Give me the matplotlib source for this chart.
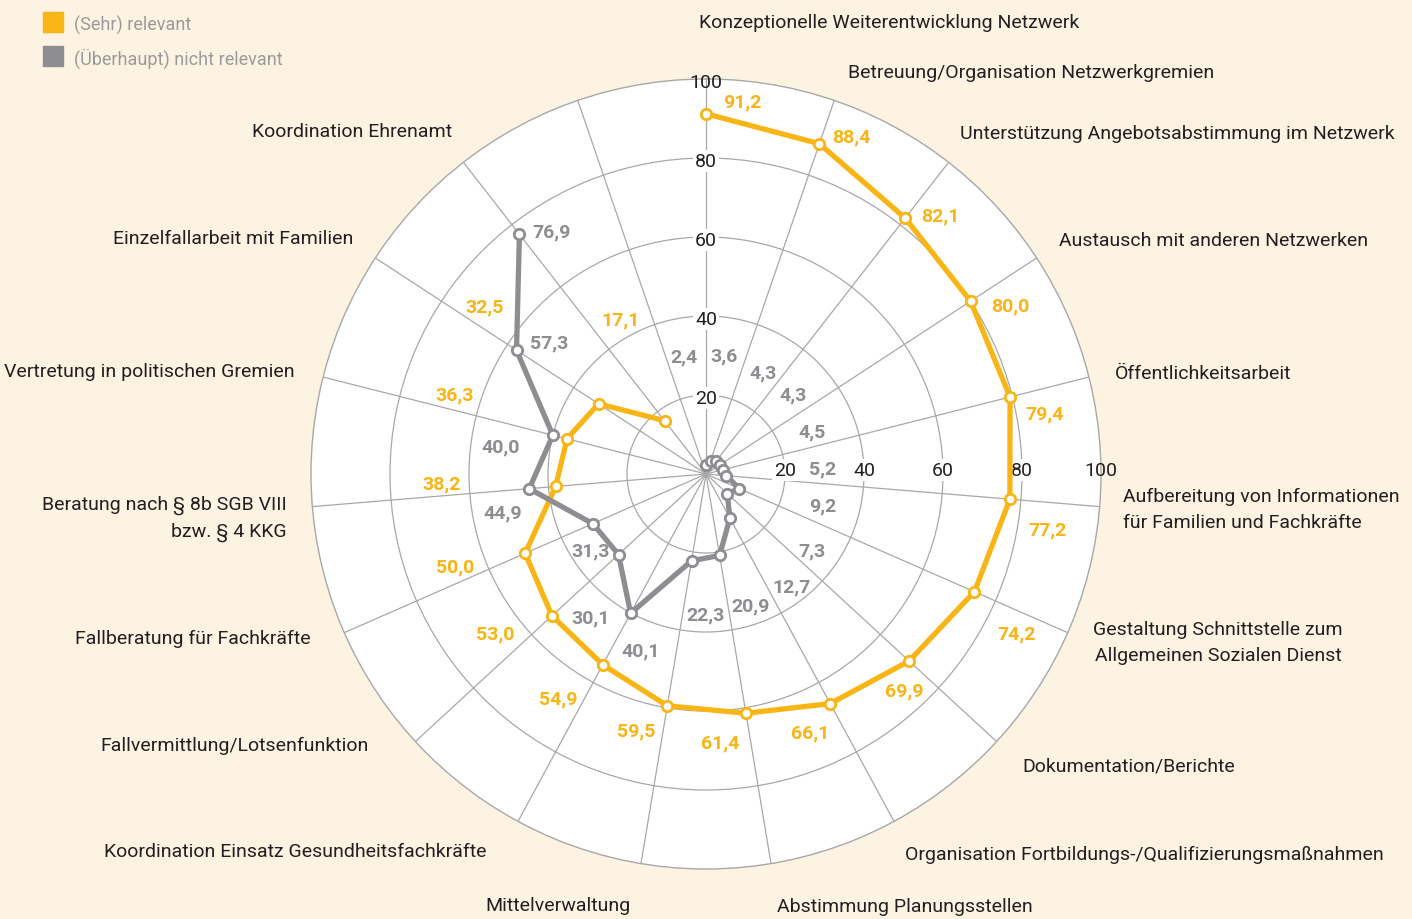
import matplotlib
matplotlib.use("Agg")
import matplotlib.pyplot as plt
import matplotlib.transforms as mtransforms
from matplotlib.patches import Rectangle
import numpy as np

# Kategorien (im Uhrzeigersinn ab oben), letzte Speiche bleibt leer
categories = [
    "Konzeptionelle Weiterentwicklung Netzwerk",
    "Betreuung/Organisation Netzwerkgremien",
    "Unterstützung Angebotsabstimmung im Netzwerk",
    "Austausch mit anderen Netzwerken",
    "Öffentlichkeitsarbeit",
    "Aufbereitung von Informationen\nfür Familien und Fachkräfte",
    "Gestaltung Schnittstelle zum\nAllgemeinen Sozialen Dienst",
    "Dokumentation/Berichte",
    "Organisation Fortbildungs-/Qualifizierungsmaßnahmen",
    "Abstimmung Planungsstellen",
    "Mittelverwaltung",
    "Koordination Einsatz Gesundheitsfachkräfte",
    "Fallvermittlung/Lotsenfunktion",
    "Fallberatung für Fachkräfte",
    "Beratung nach § 8b SGB VIII\nbzw. § 4 KKG",
    "Vertretung in politischen Gremien",
    "Einzelfallarbeit mit Familien",
    "Koordination Ehrenamt",
]
relevant = [91.2, 88.4, 82.1, 80.0, 79.4, 77.2, 74.2, 69.9, 66.1,
            61.4, 59.5, 54.9, 53.0, 50.0, 38.2, 36.3, 32.5, 17.1]
not_relevant = [2.4, 3.6, 4.3, 4.3, 4.5, 5.2, 9.2, 7.3, 12.7,
                20.9, 22.3, 40.1, 30.1, 31.3, 44.9, 40.0, 57.3, 76.9]
series_names = ["(Sehr) relevant", "(Überhaupt) nicht relevant"]
r_ticks = [20, 40, 60, 80, 100]
n_spokes = 19

# Layout: Beschriftungspositionen (Winkel in Grad, Radius in Skaleneinheiten)
yel_lab = [(5.5, 95.4), (23.2, 93.7), (41.8, 88.9), (60.5, 88.4), (79.3, 87.3),
           (98.8, 87.6), (116.7, 87.9), (137.2, 73.8), (157.9, 69.9), (177, 67.2),
           (195.5, 66.5), (213.7, 67.5), (233.5, 66.4), (250.3, 67.5), (268.5, 66.9),
           (288.3, 66.9), (307.6, 70.8), (331.7, 45.4)]
gry_lab = [(349.7, 31.1), (8.5, 31.0), (28.5, 30.2), (46.3, 30.4), (67, 29.2),
           (85.6, 29.7), (103.5, 30.5), (124.6, 32.6), (142, 35.0), (161, 34.3),
           (180, 34.9), (200.6, 46.8), (219.6, 46.0), (237.6, 34.5), (260, 52.2),
           (278.6, 52.5), (310.5, 52.3), (327.8, 73.6)]
# Kategorie-Beschriftungen in Pixeln (x, y, Ausrichtung)
cat_pos = [(699, 23, "left"), (848, 73, "left"), (960, 134, "left"),
           (1059, 241, "left"), (1115, 374, "left"), (1123, 510, "left"),
           (1218, 643, "center"), (1022, 767, "left"), (905, 855, "left"),
           (777, 907, "left"), (631, 906, "right"), (487, 852, "right"),
           (369, 746, "right"), (311, 639, "right"), (287, 519, "right"),
           (295, 372, "right"), (353, 239, "right"), (452, 132, "right")]

YELLOW = "#F9B515"
GREY = "#8D8D92"
BG = "#FDF3E2"
GRID = "#A8A8A8"
TXT = "#231F20"

plt.rcParams["font.family"] = ["Roboto", "DejaVu Sans"]

W, H = 1412, 920
fig = plt.figure(figsize=(W / 100, H / 100), dpi=100, facecolor=BG)

cx, cy, rad = 706, 475, 395
ax = fig.add_axes([(cx - rad) / W, (H - cy - rad) / H, 2 * rad / W, 2 * rad / H],
                  projection="polar")
ax.set_facecolor("white")
ax.set_theta_zero_location("N")
ax.set_theta_direction(-1)
ax.set_ylim(0, 100)

angles = np.arange(n_spokes) * 2 * np.pi / n_spokes
ax.set_xticks(angles)
ax.set_xticklabels([])
ax.set_yticks(r_ticks[:-1])
ax.set_yticklabels([])
ax.grid(color=GRID, lw=0.9)
ax.spines["polar"].set_color(GRID)
ax.spines["polar"].set_linewidth(1.0)

th = angles[:len(relevant)]
ax.plot(th, relevant, color=YELLOW, lw=3.8, marker="o", ms=7.5,
        mfc="white", mec=YELLOW, mew=2.0, zorder=4, clip_on=False)
ax.plot(th, not_relevant, color=GREY, lw=3.8, marker="o", ms=7.5,
        mfc="white", mec=GREY, mew=2.0, zorder=5, clip_on=False)

# Zahlen etwas nach unten versetzt (optische Mitte)
down = ax.transData + mtransforms.ScaledTranslation(0, -3 / 100, fig.dpi_scale_trans)
fmt = lambda v: f"{v:.1f}".replace(".", ",")
for v, (a, r) in zip(relevant, yel_lab):
    ax.text(np.deg2rad(a), r, fmt(v), color=YELLOW, fontsize=14, fontweight="bold",
            ha="center", va="center", zorder=6, transform=down)
for v, (a, r) in zip(not_relevant, gry_lab):
    ax.text(np.deg2rad(a), r, fmt(v), color=GREY, fontsize=14, fontweight="bold",
            ha="center", va="center", zorder=6, transform=down)

# Skalenbeschriftung oben und rechts
up = ax.transData + mtransforms.ScaledTranslation(0, 4 / 100, fig.dpi_scale_trans)
for t in r_ticks:
    box = None if t == 100 else dict(facecolor="white", edgecolor="none", pad=1.5)
    ax.text(0, t, str(t), color=TXT, fontsize=14, ha="center", va="center",
            bbox=box, zorder=3, clip_on=False, transform=down)
    ax.text(np.pi / 2, t, str(t), color=TXT, fontsize=14, ha="center",
            va="center", bbox=box, zorder=3, clip_on=False, transform=up)

for name, (x, y, ha) in zip(categories, cat_pos):
    fig.text(x / W, 1 - y / H, name, color=TXT, fontsize=14, ha=ha, va="center",
             multialignment=ha, linespacing=1.55)

# Legende
for i, (name, col) in enumerate(zip(series_names, [YELLOW, GREY])):
    yc = 23 + 34 * i
    fig.patches.append(Rectangle((43 / W, 1 - (yc + 10) / H), 20 / W, 20 / H,
                                 transform=fig.transFigure, color=col))
    fig.text(74 / W, 1 - (yc + 2) / H, name, color="#9A9A9A", fontsize=13,
             ha="left", va="center")

fig.savefig("out.png", dpi=100, facecolor=BG)
